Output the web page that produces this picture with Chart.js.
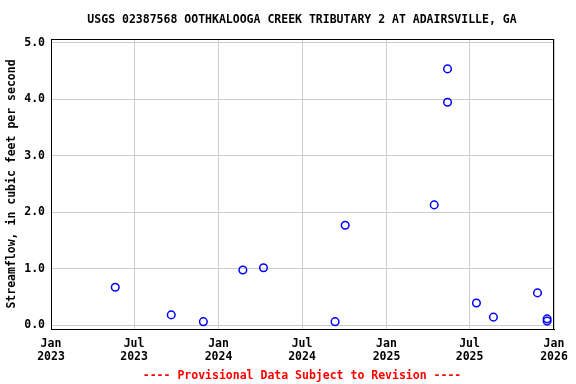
<!DOCTYPE html>
<html>
<head>
<meta charset="utf-8">
<script src="https://cdn.jsdelivr.net/npm/chart.js@4"></script>
<style>
html,body{margin:0;padding:0;background:#fff;}
#wrap{width:576px;height:384px;position:relative;}
</style>
</head>
<body>
<div id="wrap"><canvas id="c" width="576" height="384"></canvas></div>
<script>
const titleText = "USGS 02387568 OOTHKALOOGA CREEK TRIBUTARY 2 AT ADAIRSVILLE, GA";
const yAxisTitle = "Streamflow, in cubic feet per second";
const footerText = "---- Provisional Data Subject to Revision ----";

const sampleDates = [
  "2023-05-21", "2023-09-20", "2023-11-29", "2024-02-23", "2024-04-08",
  "2024-09-11", "2024-10-03", "2025-04-15", "2025-05-14", "2025-05-14",
  "2025-07-16", "2025-08-22", "2025-11-26", "2025-12-17", "2025-12-17"
];
const flowValues = [
  0.67, 0.18, 0.06, 0.975, 1.015,
  0.06, 1.77, 2.13, 4.54, 3.95,
  0.39, 0.14, 0.57, 0.11, 0.07
];
const tickDates = ["2023-01-01","2023-07-01","2024-01-01","2024-07-01","2025-01-01","2025-07-01","2026-01-01"];
const tickLabels = [["Jan","2023"],["Jul","2023"],["Jan","2024"],["Jul","2024"],["Jan","2025"],["Jul","2025"],["Jan","2026"]];
const yTicks = [0,1,2,3,4,5];

const toMs = s => Date.parse(s + "T00:00:00Z");
const points = sampleDates.map((d,i) => ({x: toMs(d), y: flowValues[i]}));
const tickMs = tickDates.map(toMs);

const FONT = "'DejaVu Sans Mono', 'Liberation Mono', monospace";

const framePlugin = {
  id: 'frame',
  afterDraw(chart) {
    const {ctx, chartArea: a} = chart;
    ctx.save();
    ctx.strokeStyle = '#000';
    ctx.lineWidth = 1;
    ctx.strokeRect(a.left + 0.5, a.top + 0.5, a.right - a.left - 1, a.bottom - a.top);
    ctx.fillStyle = '#000';
    ctx.font = "bold 11.5px " + FONT;
    ctx.textAlign = 'center';
    ctx.textBaseline = 'middle';
    ctx.fillText(titleText, 302, 20);
    ctx.fillStyle = '#ff0000';
    ctx.fillText(footerText, 302, 376);
    ctx.restore();
  }
};

new Chart(document.getElementById('c'), {
  type: 'scatter',
  data: {
    datasets: [{
      data: points,
      showLine: false,
      pointStyle: 'circle',
      pointRadius: 3.8,
      pointBorderWidth: 1.5,
      pointBorderColor: '#0000ff',
      pointBackgroundColor: 'rgba(255,255,255,0)',
      clip: false
    }]
  },
  options: {
    responsive: false,
    animation: false,
    devicePixelRatio: 1,
    layout: {padding: {top: 39, right: 22, bottom: 0, left: 0}},
    plugins: {legend: {display: false}, tooltip: {enabled: false}},
    scales: {
      x: {
        type: 'linear',
        min: tickMs[0],
        max: tickMs[tickMs.length - 1],
        afterBuildTicks: s => { s.ticks = tickMs.map(v => ({value: v})); },
        afterFit: s => { s.height = 55; },
        grid: {color: '#cccccc', lineWidth: 1, drawTicks: false},
        border: {display: true, color: '#000'},
        ticks: {
          autoSkip: false,
          maxRotation: 0,
          padding: 8,
          color: '#000',
          font: {family: FONT, size: 11.5, weight: 'bold', lineHeight: 1.15},
          callback: (v) => { const i = tickMs.indexOf(v); return i >= 0 ? tickLabels[i] : ''; }
        }
      },
      y: {
        type: 'linear',
        min: -0.07,
        max: 5.07,
        afterBuildTicks: s => { s.ticks = yTicks.map(v => ({value: v})); },
        afterFit: s => { s.width = 51; },
        grid: {color: '#cccccc', lineWidth: 1, drawTicks: false},
        border: {display: true, color: '#000'},
        title: {
          display: true,
          text: yAxisTitle,
          color: '#000',
          font: {family: FONT, size: 11.5, weight: 'bold'},
          padding: {top: 5, bottom: 0}
        },
        ticks: {
          padding: 6,
          color: '#000',
          font: {family: FONT, size: 11.5, weight: 'bold'},
          callback: v => v.toFixed(1)
        }
      }
    }
  },
  plugins: [framePlugin]
});
</script>
</body>
</html>
